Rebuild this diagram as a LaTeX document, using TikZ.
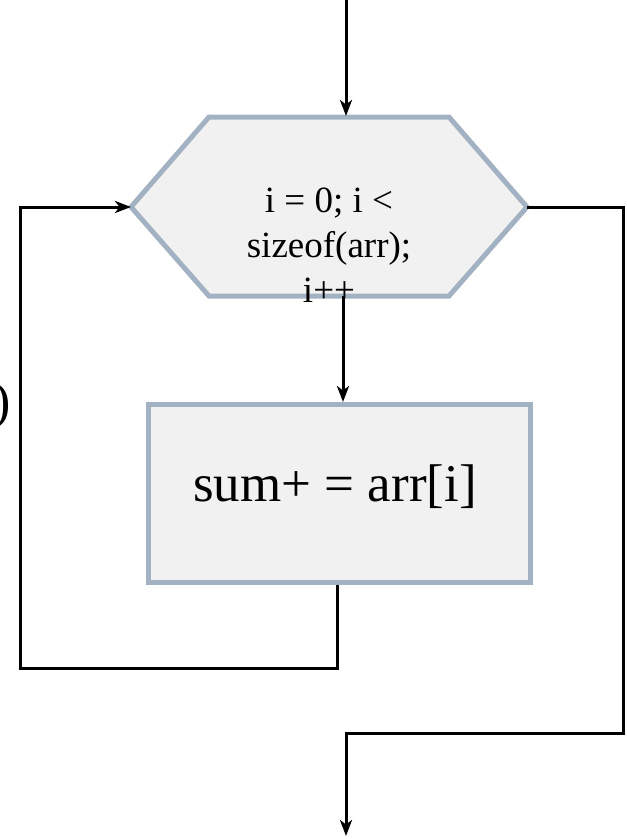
\documentclass[tikz,border=0pt]{standalone}
\usepackage{fontspec}
\setmainfont{Liberation Serif}
\usetikzlibrary{arrows.meta}
\definecolor{boxline}{RGB}{163,178,194}
\definecolor{boxfill}{RGB}{241,241,241}
\begin{document}
\begin{tikzpicture}[x=1pt,y=-1pt,
  conn/.style={draw=black,line width=3pt},
  arr/.style={conn,-{Stealth[length=16pt,width=12pt,inset=4.5pt]}},
  shapeline/.style={draw=boxline,fill=boxfill,line width=5pt},
]
\useasboundingbox (0,0) rectangle (627,839);
% hexagon (loop header)
\coordinate (hexL) at (131,207);
\coordinate (hexR) at (527,207);
\coordinate (hexT) at (346,116);
\coordinate (hexB) at (343,296);
\draw[shapeline] (hexL) -- (209,117) -- (449,117) -- (hexR) -- (449,296) -- (209,296) -- cycle;
\node[anchor=base,inner sep=0] (hextext) at (329,302)
  {\fontsize{37}{45}\selectfont\begin{tabular}[b]{@{}c@{}}i = 0; i {<}\\ sizeof(arr);\\ i++\end{tabular}};
% body
\node[shapeline,minimum width=382,minimum height=178,inner sep=0,anchor=north west] (body) at (146,402) {};
\node[anchor=base,inner sep=0] (bodytext) at (335,501) {\fontsize{53}{62}\selectfont sum+ = arr[i]};
% cut label at left
\node[anchor=east,inner sep=0] (paren) at (11,406) {\fontsize{52}{60}\selectfont )};
% free ends
\coordinate (start) at (346,0);
\coordinate (finish) at (346,836);
% connectors
\draw[arr] (start) -- (hexT);
\draw[arr] (hexB) -- (body.north -| hexB);
\draw[arr] (body.south -| 337,0) -- (337,668) -- (20,668) -- (20,207) -- (hexL);
\draw[arr] (hexR) -- (623,207) -- (623,733) -- (346,733) -- (finish);
\end{tikzpicture}
\end{document}
